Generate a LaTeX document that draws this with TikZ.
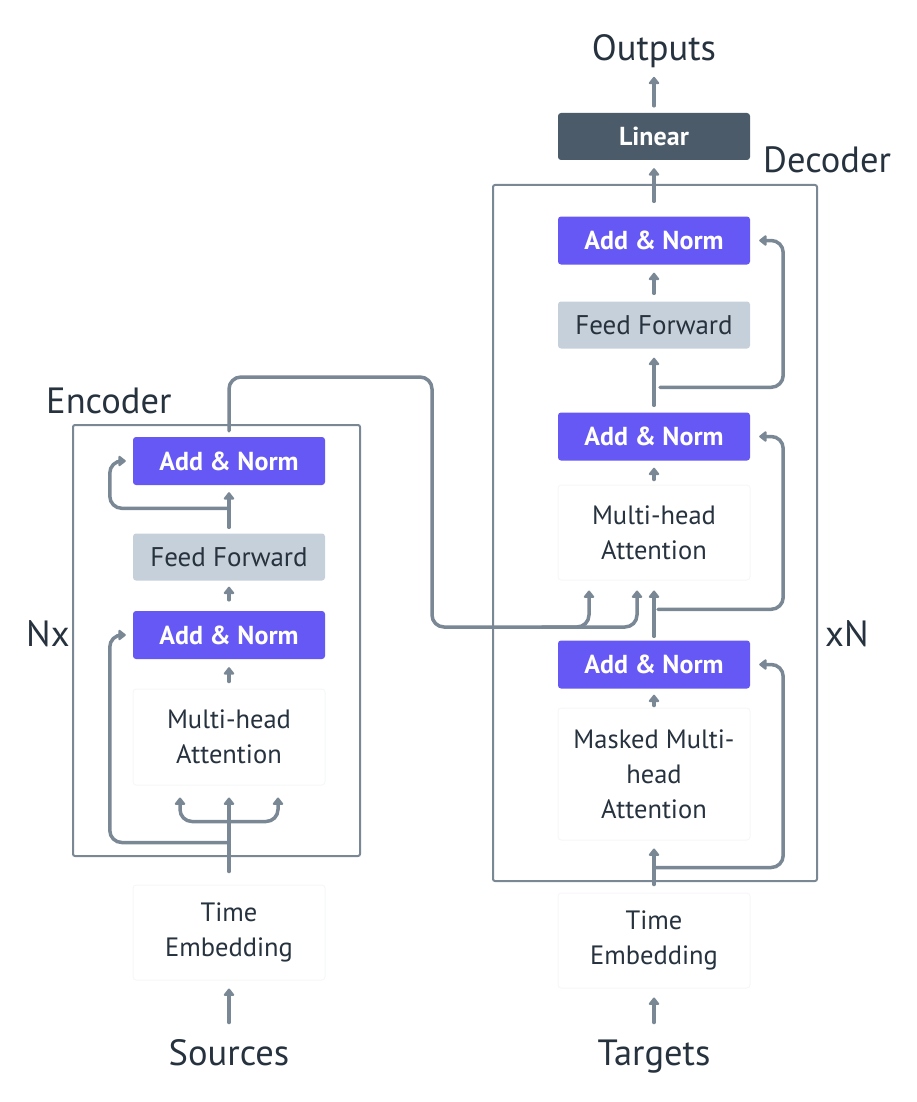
\documentclass[tikz,border=0pt]{standalone}
\usepackage{fontspec}
\setmainfont{PT Sans}
\usetikzlibrary{arrows.meta,calc,shadows}
\definecolor{anfill}{HTML}{6658F4}
\definecolor{fffill}{HTML}{C5D0DA}
\definecolor{linfill}{HTML}{4B5B6A}
\definecolor{arrcol}{HTML}{7A8795}
\definecolor{txt}{HTML}{27323F}
\definecolor{faint}{HTML}{F6F7F8}
\begin{document}
\begin{tikzpicture}[x=1pt,y=-1pt,
 blk/.style={minimum width=192pt, inner sep=0pt, rounded corners=3pt, align=center},
 an/.style={blk, fill=anfill, text=white, minimum height=48pt, font=\fontsize{26}{30}\selectfont\bfseries},
 ffb/.style={blk, fill=fffill, text=txt, minimum height=47pt, font=\fontsize{27}{30}\selectfont},
 linb/.style={blk, fill=linfill, text=white, minimum height=47pt, font=\fontsize{26}{30}\selectfont\bfseries},
 wb/.style={blk, fill=white, draw=faint, line width=1pt, text=txt, font=\fontsize{26.5}{35}\selectfont},
 lbl/.style={text=txt, font=\fontsize{36.5}{40}\selectfont, inner sep=0pt},
 frame/.style={draw=arrcol, line width=2pt, rounded corners=2pt, inner sep=0pt},
 arr/.style={draw=arrcol, line width=3.5pt, line cap=round, -{Triangle[width=12pt,length=8pt,round]}, rounded corners=12pt},
 arrb/.style={draw=arrcol, line width=3.5pt, line cap=round, {Triangle[width=12pt,length=8pt,round]}-{Triangle[width=12pt,length=8pt,round]}, rounded corners=12pt}
]
\useasboundingbox (0,0) rectangle (916,1102);
% frames
\node[frame, minimum width=287pt, minimum height=431pt] (encbox) at (216.5,640.5) {};
\node[frame, minimum width=324pt, minimum height=696pt] (decbox) at (655,533) {};
% labels
\node[lbl, anchor=base west] (enclbl) at (46,413) {Encoder};
\node[lbl, anchor=base west] (declbl) at (763,173) {Decoder};
\node[lbl, anchor=base west] (nx) at (26,646) {Nx};
\node[lbl, anchor=base west] (xn) at (825,646) {xN};
\node[lbl, anchor=base] (outputs) at (654,61) {Outputs};
\node[lbl, anchor=base] (sources) at (229,1065) {Sources};
\node[lbl, anchor=base] (targets) at (654,1065) {Targets};
% encoder blocks
\node[an] (encAN2) at (229,461) {Add \& Norm};
\node[ffb] (encFF) at (229,557) {Feed Forward};
\node[an] (encAN1) at (229,635) {Add \& Norm};
\node[wb, minimum height=96pt] (encMHA) at (229,737) {Multi-head\\Attention};
\node[wb, minimum height=95pt] (encTE) at (229,932.5) {Time\\Embedding};
% decoder blocks
\node[linb] (lin) at (654,136.5) {Linear};
\node[an] (decAN3) at (654,240.5) {Add \& Norm};
\node[ffb] (decFF) at (654,325) {Feed Forward};
\node[an] (decAN2) at (654,436.5) {Add \& Norm};
\node[wb, minimum height=95pt] (decMHA) at (654,532.5) {Multi-head\\Attention};
\node[an] (decAN1) at (654,664.5) {Add \& Norm};
\node[wb, minimum height=132pt] (decMMHA) at (654,774) {Masked Multi-\\head\\Attention};
\node[wb, minimum height=95pt] (decTE) at (654,940.5) {Time\\Embedding};
\coordinate (bridgeTop) at (432,377);
\coordinate (bridgeBot) at (432,627);
% encoder connectors
\draw[arr] ($(encTE.south)+(0,42)$) -- ($(encTE.south)+(0,8)$);
\draw[arr] ($(encTE.north)+(0,-13)$) -- ($(encMHA.south)+(0,12)$);
\draw[arr] ($(encTE.north)+(0,-42)$) -| ($(encAN1.west)+(-23,0)$) -- ($(encAN1.west)+(-7,0)$);
\draw[arrb] ($(encMHA.south)+(-49,12)$) -- ($(encMHA.south)+(-49,36)$) -- ($(encMHA.south)+(49,36)$) -- ($(encMHA.south)+(49,12)$);
\draw[arr] ($(encMHA.north)+(0,-7)$) -- ($(encAN1.south)+(0,8)$);
\draw[arr] ($(encAN1.north)+(0,-11)$) -- ($(encFF.south)+(0,6)$);
\draw[arr] ($(encFF.north)+(0,-6)$) -- ($(encAN2.south)+(0,7)$);
\draw[arr] ($(encFF.north)+(0,-25)$) -| ($(encAN2.west)+(-23,0)$) -- ($(encAN2.west)+(-7,0)$);
\draw[arr] ($(encAN2.north)+(0,-6)$) |- (bridgeTop) -- (bridgeBot) -| ($(decMHA.south)+(-17,10)$);
\draw[arr] ($(bridgeBot)+(110,0)$) -| ($(decMHA.south)+(-65,10)$);
% decoder connectors
\draw[arr] ($(decTE.south)+(0,34)$) -- ($(decTE.south)+(0,9)$);
\draw[arr] ($(decTE.north)+(0,-8)$) -- ($(decMMHA.south)+(0,8)$);
\draw[arr] ($(decTE.north)+(2,-25)$) -| ($(decAN1.east)+(33,0)$) -- ($(decAN1.east)+(9,0)$);
\draw[arr] ($(decMMHA.north)+(0,-2)$) -- ($(decAN1.south)+(0,6)$);
\draw[arr] ($(decAN1.north)+(0,-4)$) -- ($(decMHA.south)+(0,10)$);
\draw[arr] ($(decAN1.north)+(4,-31)$) -| ($(decAN2.east)+(33,0)$) -- ($(decAN2.east)+(9,0)$);
\draw[arr] ($(decMHA.north)+(0,-5)$) -- ($(decAN2.south)+(0,7)$);
\draw[arr] ($(decAN2.north)+(0,-7)$) -- ($(decFF.south)+(0,9)$);
\draw[arr] ($(decAN2.north)+(6,-25)$) -| ($(decAN3.east)+(33,0)$) -- ($(decAN3.east)+(9,0)$);
\draw[arr] ($(decFF.north)+(0,-8)$) -- ($(decAN3.south)+(0,8)$);
\draw[arr] ($(decAN3.north)+(0,-15)$) -- ($(lin.south)+(0,8)$);
\draw[arr] ($(lin.north)+(0,-7)$) -- ($(lin.north)+(0,-36)$);
\end{tikzpicture}
\end{document}
